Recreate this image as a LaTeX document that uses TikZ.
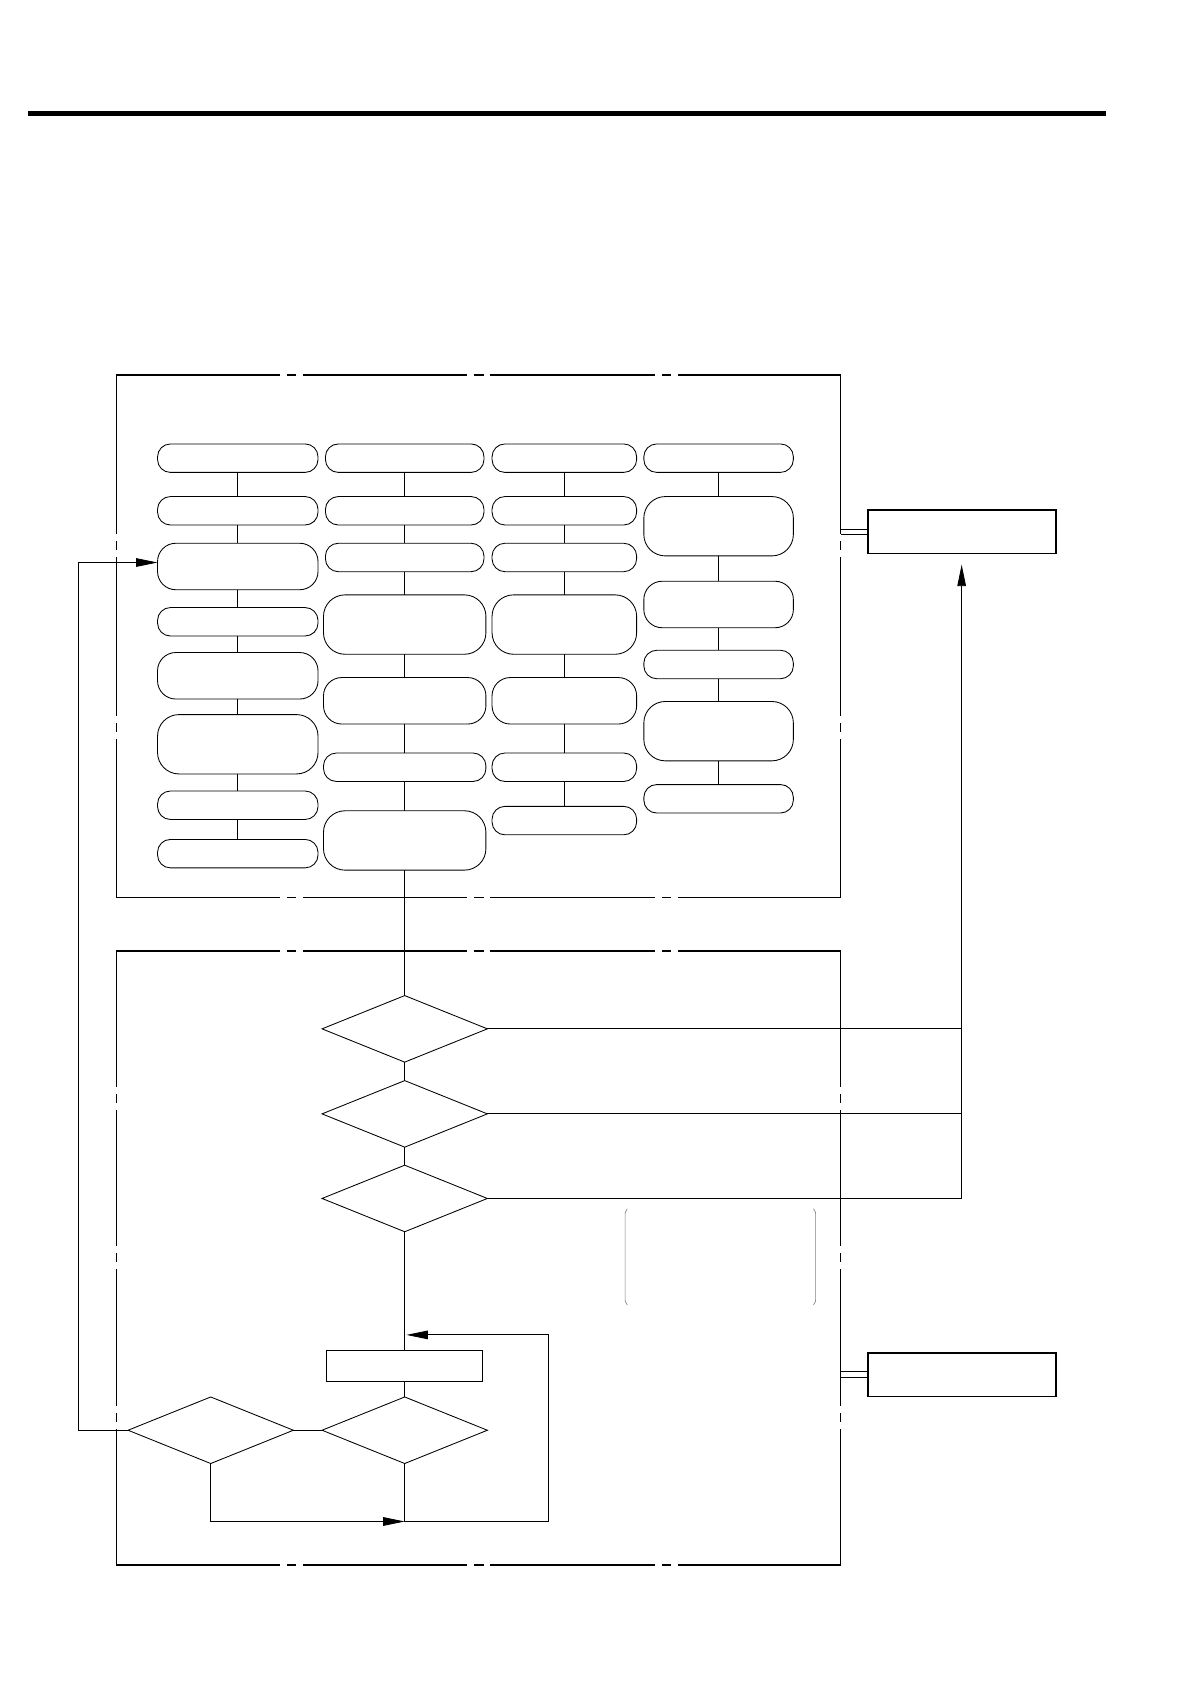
\documentclass[tikz,border=0pt]{standalone}
\usetikzlibrary{shapes.geometric,arrows.meta}
\begin{document}
\begin{tikzpicture}[x=1pt,y=-1pt,
  conn/.style={line width=0.8pt},
  arr/.style={-{Triangle[length=20pt,width=8pt]}},
  rbox/.style={draw,line width=0.8pt,inner sep=0pt,outer sep=0pt,rounded corners=#1},
  sm/.style={rbox=12pt,minimum height=26.5pt},
  md/.style={rbox=17pt,minimum height=43.3pt},
  lg/.style={rbox=20pt,minimum height=55.3pt},
  cA/.style={minimum width=149.5pt},
  cB/.style={minimum width=147.7pt},
  cBl/.style={minimum width=151.3pt},
  cC/.style={minimum width=134.7pt},
  cD/.style={minimum width=139.3pt},
  sbox/.style={draw,line width=1.5pt,inner sep=0pt,outer sep=0pt,minimum width=175.3pt,minimum height=40.8pt},
  pbox/.style={draw,line width=0.8pt,inner sep=0pt,outer sep=0pt,minimum width=145pt,minimum height=28.7pt},
  dia/.style={draw,diamond,line width=0.8pt,inner sep=0pt,outer sep=0pt,minimum width=154pt,minimum height=62pt},
  fh/.style={line width=1.6pt,line cap=rect,dash pattern=on 151.5pt off 8pt on 7pt off 8pt},
  fvt/.style={line width=1.6pt,line cap=rect,dash pattern=on 147pt off 8pt on 7pt off 8pt},
  fvb/.style={line width=1.6pt,line cap=rect,dash pattern=on 125.6pt off 8pt on 7pt off 8pt},
  brk/.style={line width=0.6pt,draw=black!50}
]
\useasboundingbox (0,0) rectangle (1108.5,1568.7);

% header rule
\draw[line width=4.6pt] (26,105.7) -- (1030,105.7);

% frames
\draw[fh] (108.6,349.3) -- (783,349.3);
\draw[fh] (108.6,836) -- (783,836);
\draw[fvt] (108.6,349.3) -- (108.6,836);
\draw[fvt] (783,349.3) -- (783,836);
\draw[fh] (108.6,886) -- (783,886);
\draw[fh] (108.6,1457.8) -- (783,1457.8);
\draw[fvb] (108.6,886) -- (108.6,1457.8);
\draw[fvb] (783,886) -- (783,1457.8);

% column 1
\node[sm,cA] (a1) at (221.5,426.8) {};
\node[sm,cA] (a2) at (221.5,475.8) {};
\node[md,cA] (a3) at (221.5,527.7) {};
\node[sm,cA] (a4) at (221.5,579.2) {};
\node[md,cA] (a5) at (221.5,629.5) {};
\node[lg,cA] (a6) at (221.5,693.3) {};
\node[sm,cA] (a7) at (221.5,750.1) {};
\node[sm,cA] (a8) at (221.5,795.2) {};
% column 2
\node[sm,cB] (b1) at (377,426.8) {};
\node[sm,cB] (b2) at (377,475.8) {};
\node[sm,cB] (b3) at (377,519.3) {};
\node[lg,cBl] (b4) at (377,581.8) {};
\node[md,cBl] (b5) at (377,652.8) {};
\node[sm,cBl] (b6) at (377,714.7) {};
\node[lg,cBl] (b7) at (377,782.9) {};
% column 3
\node[sm,cC] (c1) at (525.7,426.8) {};
\node[sm,cC] (c2) at (525.7,475.8) {};
\node[sm,cC] (c3) at (525.7,519.3) {};
\node[lg,cC] (c4) at (525.7,581.8) {};
\node[md,cC] (c5) at (525.7,652.8) {};
\node[sm,cC] (c6) at (525.7,714.7) {};
\node[sm,cC] (c7) at (525.7,764.4) {};
% column 4
\node[sm,cD] (d1) at (669.4,426.8) {};
\node[lg,cD] (d2) at (669.4,490.2) {};
\node[md,cD] (d3) at (669.4,563.1) {};
\node[sm,cD] (d4) at (669.4,619) {};
\node[lg,cD] (d5) at (669.4,681.1) {};
\node[sm,cD] (d6) at (669.4,744.1) {};

\foreach \p/\q in {a1/a2,a2/a3,a3/a4,a4/a5,a5/a6,a6/a7,a7/a8,
                   b1/b2,b2/b3,b3/b4,b4/b5,b5/b6,b6/b7,
                   c1/c2,c2/c3,c3/c4,c4/c5,c5/c6,c6/c7,
                   d1/d2,d2/d3,d3/d4,d4/d5,d5/d6}
  \draw[conn] (\p) -- (\q);

% right boxes
\node[sbox] (R1) at (896,495.3) {};
\node[sbox] (R2) at (896,1280.6) {};
\draw[conn] ([yshift=2.5pt]R1.west) -- ++(-25.4,0);
\draw[conn] ([yshift=-2.9pt]R1.west) -- ++(-25.4,0);
\draw[conn] ([yshift=2.7pt]R2.west) -- ++(-25.4,0);
\draw[conn] ([yshift=-2.8pt]R2.west) -- ++(-25.4,0);

% decisions
\node[dia] (D1) at (377,958.4) {};
\node[dia] (D2) at (377,1037.6) {};
\node[dia] (D3) at (377,1116.4) {};
\node[pbox] (P1) at (377,1272.5) {};
\node[dia] (D4) at (377,1332.3) {};
\node[dia] (D5) at (196.3,1332.3) {};

\draw[conn] (b7) -- (D1);
\draw[conn] (D1) -- (D2);
\draw[conn] (D2) -- (D3);
\draw[conn] (D3) -- (P1);
\draw[conn] (P1) -- (D4);
\draw[conn] (D5) -- (D4);

\coordinate (rx) at (895.8,526);
\draw[conn] (D1.east) -- (D1.east -| rx);
\draw[conn] (D2.east) -- (D2.east -| rx);
\draw[conn,arr] (D3.east) -| (rx);

\coordinate (lx) at (73,524);
\draw[conn,arr] (D5.west) -| (lx) -- ([yshift=3.7pt]a3.west);

\coordinate (by) at (377,1417.3);
\coordinate (br) at (510.8,1417.3);
\coordinate (bt) at (510.8,1243.5);
\coordinate (mt) at (378.6,1243.5);
\draw[conn,arr] (D5.south) |- (by);
\draw[conn,arr] (D4.south) -- (by) -- (br) -- (bt) -- (mt);

% brackets
\draw[brk] (584.3,1126) .. controls (582.3,1129) .. (582.3,1133) -- (582.3,1208.6) .. controls (582.3,1212.6) .. (584.3,1215.6);
\draw[brk] (757.8,1126) .. controls (759.8,1129) .. (759.8,1133) -- (759.8,1208.6) .. controls (759.8,1212.6) .. (757.8,1215.6);
\end{tikzpicture}
\end{document}
